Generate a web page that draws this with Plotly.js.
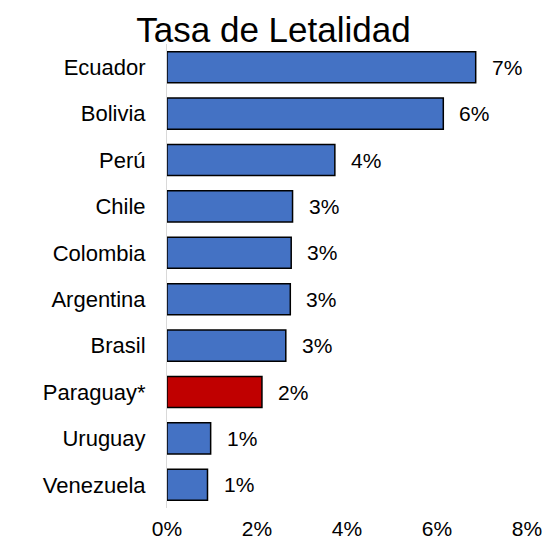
<!DOCTYPE html>
<html>
<head>
<meta charset="utf-8">
<script src="https://cdn.plot.ly/plotly-3.0.1.min.js"></script>
<style>html,body{margin:0;padding:0;background:#fff;}#chart{width:547px;height:549px;}</style>
</head>
<body>
<div id="chart"></div>
<script>
const countries = ["Ecuador", "Bolivia", "Perú", "Chile", "Colombia", "Argentina", "Brasil", "Paraguay*", "Uruguay", "Venezuela"];
const lethality = [0.0686, 0.0614, 0.0373, 0.0279, 0.0276, 0.0274, 0.0264, 0.0211, 0.0097, 0.0090];
const highlight = "Paraguay*";
const xTicks = [0, 0.02, 0.04, 0.06, 0.08];
const xTickLabels = ["0%", "2%", "4%", "6%", "8%"];

const FONT = "Liberation Sans, Arial, sans-serif";
const colors = countries.map(c => c === highlight ? "#C00000" : "#4472C4");

const trace = {
  type: "bar",
  orientation: "h",
  y: countries,
  x: lethality,
  width: 0.67,
  marker: { color: colors, line: { color: "#000000", width: 1.5 } },
  hoverinfo: "skip"
};

const annotations = countries.map((c, i) => ({
  x: lethality[i], y: c, xref: "x", yref: "y",
  text: Math.round(lethality[i] * 100) + "%",
  showarrow: false, xanchor: "left", yanchor: "middle", xshift: 14,
  font: { family: FONT, size: 21, color: "#000" }
}));

const layout = {
  width: 547, height: 549,
  margin: { l: 167, r: 20, t: 44, b: 41 },
  paper_bgcolor: "#fff", plot_bgcolor: "#fff",
  showlegend: false,
  title: { text: "Tasa de Letalidad", x: 0.5, xref: "container", xanchor: "center",
           y: 0.945, yref: "container", yanchor: "middle",
           font: { family: FONT, size: 35, color: "#000" } },
  xaxis: { range: [0, 0.08], tickvals: xTicks, ticktext: xTickLabels,
           showgrid: false, zeroline: false, showline: false, ticks: "",
           ticklabelstandoff: 6,
           tickfont: { family: FONT, size: 21, color: "#000" }, fixedrange: true },
  yaxis: { autorange: "reversed", showgrid: false, zeroline: false,
           showline: true, linecolor: "#d9d9d9", linewidth: 1, ticks: "",
           ticklabelstandoff: 16,
           tickfont: { family: FONT, size: 22, color: "#000" }, fixedrange: true },
  annotations: annotations
};

Plotly.newPlot("chart", [trace], layout, { displayModeBar: false, staticPlot: true });
</script>
</body>
</html>
